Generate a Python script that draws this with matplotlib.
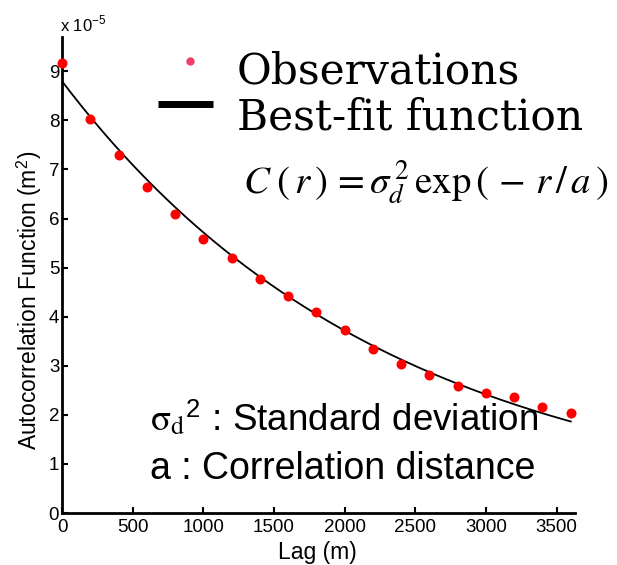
import numpy as np
import matplotlib
matplotlib.use("Agg")
import matplotlib.pyplot as plt
from matplotlib.lines import Line2D

plt.rcParams['mathtext.fontset'] = 'stix'

# Observations (lag in m, autocorrelation in 1e-5 m^2)
lag = [0, 200, 400, 600, 800, 1000, 1200, 1400, 1600, 1800, 2000,
       2200, 2400, 2600, 2800, 3000, 3200, 3400, 3600]
acf = [9.16, 8.02, 7.29, 6.64, 6.09, 5.58, 5.19, 4.77, 4.42, 4.09, 3.73,
       3.34, 3.03, 2.81, 2.59, 2.44, 2.36, 2.16, 2.03]

# Best-fit exponential model parameters: C(r) = sigma2 * exp(-r / a)
sigma2 = 8.80
corr_a = 2320.0
fit_r_max = 3600

xticks = [0, 500, 1000, 1500, 2000, 2500, 3000, 3500]
yticks = [0, 1, 2, 3, 4, 5, 6, 7, 8, 9]

W, H = 617, 565
fig = plt.figure(figsize=(W / 100, H / 100), dpi=100)
L, R, T, B = 62, 575, 37, 513
ax = fig.add_axes([L / W, 1 - B / H, (R - L) / W, (B - T) / H])

def fx(px):
    return px / W

def fy(py):
    return 1 - py / H

r = np.linspace(0, fit_r_max, 300)
ax.plot(r, sigma2 * np.exp(-r / corr_a), color='black', lw=1.3, zorder=2)
ax.plot(lag, acf, 'o', color='#ff0000', ms=7.2, mec='none', zorder=3, clip_on=False)

ax.set_xlim(0, 3630)
ax.set_ylim(0, 9.7)
ax.set_xticks(xticks)
ax.set_yticks(yticks)
tickfont = dict(family='Liberation Sans', size=13.5)
ax.set_xticklabels([str(t) for t in xticks], **tickfont)
ax.set_yticklabels([str(t) for t in yticks], **tickfont)
ax.tick_params(axis='x', direction='in', length=4, width=1.5, pad=4)
ax.tick_params(axis='y', direction='in', length=4, width=1.5, pad=2)
for s in ['top', 'right']:
    ax.spines[s].set_visible(False)
for s in ['left', 'bottom']:
    ax.spines[s].set_linewidth(2)

ax.set_xlabel('Lag (m)', family='Liberation Sans', size=16.5, va='center')
ax.xaxis.set_label_coords(fx(317), fy(553), transform=fig.transFigure)
ax.set_ylabel('Autocorrelation Function (m$^\\mathregular{2}$)', family='Liberation Sans',
              size=16.5, va='center')
ax.yaxis.set_label_coords(fx(29), fy(300), transform=fig.transFigure)
fig.text(fx(60), fy(24), 'x 10$^{\\mathregular{-5}}$', family='Liberation Sans', size=12,
         ha='left', va='center')

# Legend (drawn manually to match placement)
fig.add_artist(Line2D([fx(190)], [fy(61)], ls='none', marker='o', color='#f0406a',
                      ms=6, mec='none', transform=fig.transFigure))
fig.add_artist(Line2D([fx(158), fx(213)], [fy(103.5), fy(103.5)], color='black', lw=5,
                      solid_capstyle='butt', transform=fig.transFigure))
legfont = dict(family='DejaVu Serif', size=30.5)
fig.text(fx(237), fy(83), 'Observations', ha='left', va='baseline', **legfont)
fig.text(fx(237), fy(130), 'Best-fit function', ha='left', va='baseline', **legfont)

fig.text(fx(243), fy(194), r'$C\;(\,r\,)\,=\sigma_d^{\,2}\,\mathrm{exp}\,(\,-\,r\,/\,a\,)$',
         size=28, ha='left', va='baseline')

fig.text(fx(150), fy(418), r'$\mathrm{\sigma}_\mathrm{d}$$^{\mathregular{2}}$ : Standard deviation',
         family='Liberation Sans', size=26.5, ha='left', va='center')
fig.text(fx(150), fy(469), 'a : Correlation distance',
         family='Liberation Sans', size=27, ha='left', va='center')

fig.savefig('out.png', dpi=100)
